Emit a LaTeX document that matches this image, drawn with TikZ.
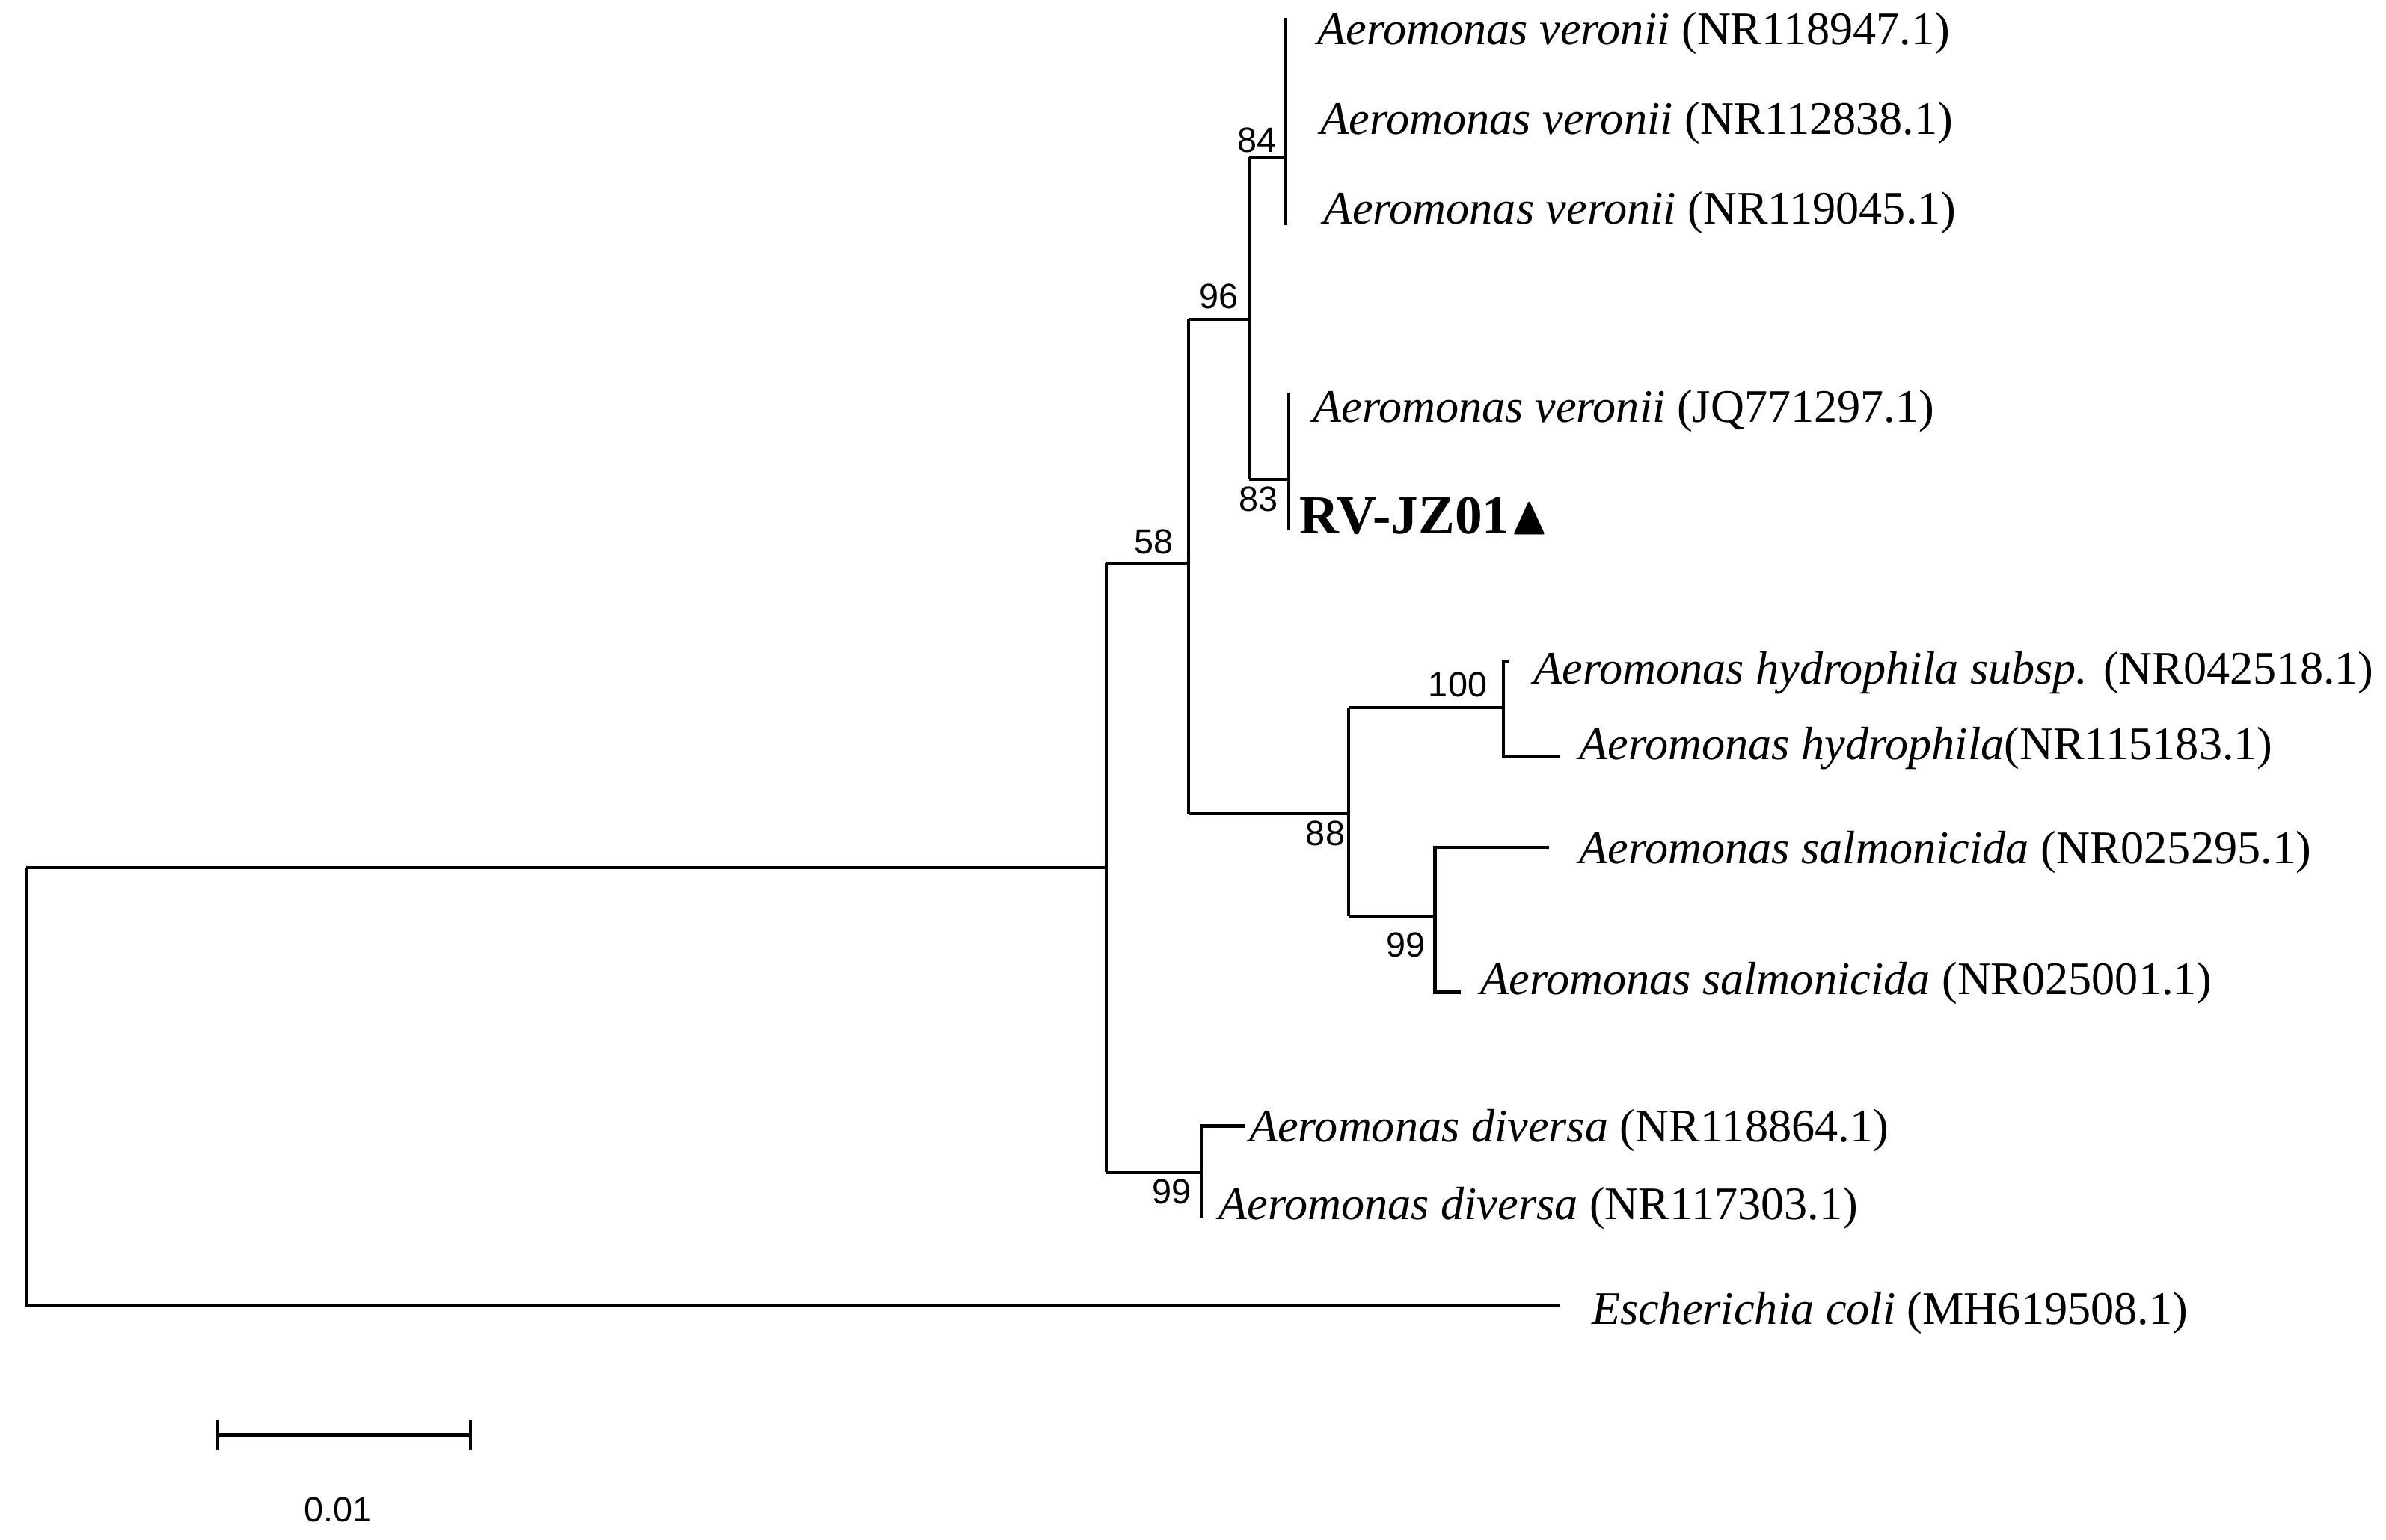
\documentclass[tikz,border=0pt]{standalone}
\usepackage{amssymb}
\usepackage{fontspec}
\setmainfont{Liberation Serif}
\newfontfamily\bootfont{Liberation Sans}
\begin{document}
\begin{tikzpicture}[x=0.5pt,y=-0.5pt,line width=1pt,
  leaf/.style={anchor=west,inner sep=0pt,font=\fontsize{15.3}{17}\selectfont},
  boot/.style={inner sep=0pt,font=\bootfont\fontsize{11.5}{13}\selectfont}]
\useasboundingbox (0,0) rectangle (1568,1012);
% internal nodes
\coordinate (root) at (17,570);
\coordinate (n58) at (727,570);
% leaves
\node[leaf] (v1) at (865,22) {\textit{Aeromonas veronii} (NR118947.1)};
\node[leaf] (v2) at (867,81) {\textit{Aeromonas veronii} (NR112838.1)};
\node[leaf] (v3) at (869,140) {\textit{Aeromonas veronii} (NR119045.1)};
\node[leaf] (v4) at (862,270) {\textit{Aeromonas veronii} (JQ771297.1)};
\node[leaf,font=\fontsize{18}{20}\selectfont\bfseries] (rv) at (853,339) {RV-JZ01$\blacktriangle$};
\node[leaf] (h1) at (1007,442) {\textit{Aeromonas hydrophila subsp.} (NR042518.1)};
\node[leaf] (h2) at (1037,492) {\textit{Aeromonas hydrophila}(NR115183.1)};
\node[leaf] (s1) at (1037,560) {\textit{Aeromonas salmonicida} (NR025295.1)};
\node[leaf] (s2) at (972,646) {\textit{Aeromonas salmonicida} (NR025001.1)};
\node[leaf] (d1) at (820,743) {\textit{Aeromonas diversa} (NR118864.1)};
\node[leaf] (d2) at (800,794) {\textit{Aeromonas diversa} (NR117303.1)};
\node[leaf] (ec) at (1045,863) {\textit{Escherichia coli} (MH619508.1)};
% branches
\draw (root) -- (n58);
\draw (root) -- (17,858) -- (1025,858);
\draw (727,370) -- (727,770);
\draw (727,370) -- (781,370);
\draw (781,210) -- (781,535);
\draw (781,210) -- (821,210);
\draw (821,103) -- (821,315);
\draw (821,103) -- (845,103);
\draw (845,12) -- (845,148);
\draw (821,315) -- (847,315);
\draw (847,258) -- (847,348);
\draw (781,535) -- (886,535);
\draw (886,465) -- (886,602);
\draw (886,465) -- (988,465) -- (988,435) -- (992,435);
\draw (988,465) -- (988,497) -- (1025,497);
\draw (886,602) -- (943,602) -- (943,557) -- (1018,557);
\draw (943,602) -- (943,652) -- (960,652);
\draw (727,770) -- (790,770) -- (790,740) -- (818,740);
\draw (790,770) -- (790,800);
% bootstrap values
\node[boot] (b84) at (826,92) {84};
\node[boot] (b96) at (801,195) {96};
\node[boot] (b83) at (827,328) {83};
\node[boot] (b58) at (758,356) {58};
\node[boot] (b100) at (958,450) {100};
\node[boot] (b88) at (871,548) {88};
\node[boot] (b99s) at (924,621) {99};
\node[boot] (b99d) at (770,783) {99};
% scale bar
\draw (143,943) -- (309,943);
\draw (143,933) -- (143,953);
\draw (309,933) -- (309,953);
\node[boot] (sc) at (222,992) {0.01};
\end{tikzpicture}
\end{document}
